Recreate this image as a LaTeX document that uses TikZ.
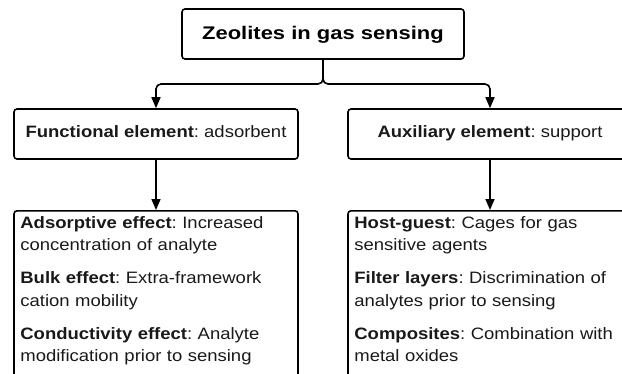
\documentclass[tikz,border=0pt]{standalone}
\usepackage{fontspec}
\setmainfont[FakeStretch=1.12]{Liberation Sans}
\newfontfamily\titlefont[FakeStretch=1.2]{Liberation Sans}
\usetikzlibrary{arrows.meta}
\definecolor{inkgray}{RGB}{25,25,25}
\frenchspacing

\begin{document}
\begin{tikzpicture}[x=1pt, y=1pt,
    box/.style={draw=black, line width=1.6pt, rounded corners=3pt, fill=white, inner sep=0pt},
    titlebox/.style={box, minimum width=282pt, minimum height=50pt, text height=14pt, text depth=4pt,
        font=\titlefont\bfseries\fontsize{18.3}{22}\selectfont},
    elembox/.style={box, minimum width=284pt, minimum height=50pt, text height=12pt, text depth=6pt,
        font=\fontsize{16.5}{20}\selectfont, text=inkgray},
    listbox/.style={box, minimum width=284pt, minimum height=250pt, anchor=north},
    listtext/.style={anchor=north west, inner sep=0pt, text width=272pt, align=left,
        font=\fontsize{16.5}{22.5}\selectfont, text=inkgray},
    conn/.style={line width=1.6pt, rounded corners=5pt, -{Triangle[width=9pt, length=11pt]}}
]
    % Canvas
    \useasboundingbox (0,0) rectangle (622,-373);
    \clip (0,0) rectangle (622,-373);

    % Top box
    \node[titlebox] (title) at (323,-34) {Zeolites in gas sensing};

    % Second row
    \node[elembox] (func) at (156,-134) {\textbf{Functional element}: adsorbent};
    \node[elembox] (aux) at (490,-134) {\textbf{Auxiliary element}: support};

    % Bottom boxes (cut off by the page)
    \node[listbox] (funclist) at (156,-210) {};
    \node[listbox] (auxlist) at (490,-210) {};

    \node[listtext] (functext) at ([xshift=7pt, yshift=-6pt]funclist.north west)
        {\textbf{Adsorptive effect}: Increased\\
         concentration of analyte\\[10.5pt]
         \textbf{Bulk effect}: Extra-framework\\
         cation mobility\\[10.5pt]
         \textbf{Conductivity effect}: Analyte\\
         modification prior to sensing};
    \node[listtext] (auxtext) at ([xshift=7pt, yshift=-6pt]auxlist.north west)
        {\textbf{Host-guest}: Cages for gas\\
         sensitive agents\\[10.5pt]
         \textbf{Filter layers}: Discrimination of\\
         analytes prior to sensing\\[10.5pt]
         \textbf{Composites}: Combination with\\
         metal oxides};

    % Connectors
    \coordinate (split) at (323,-84);
    \draw[conn] (title.south) -- (split) -| (func.north);
    \draw[conn] (title.south) -- (split) -| (aux.north);
    \draw[conn] (func.south) -- (funclist.north);
    \draw[conn] (aux.south) -- (auxlist.north);
\end{tikzpicture}
\end{document}
